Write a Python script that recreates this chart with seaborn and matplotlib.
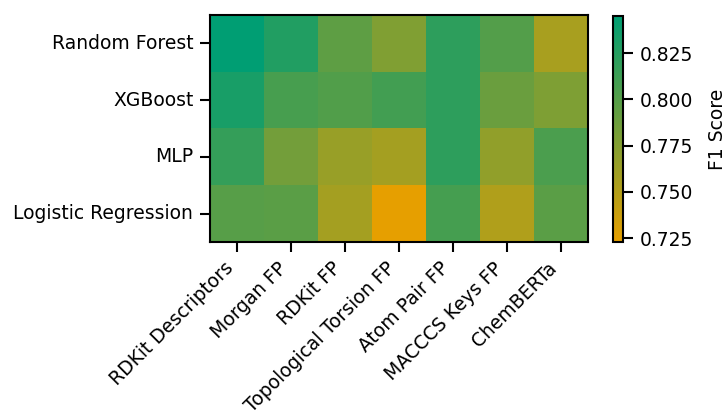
import numpy as np
import pandas as pd
import matplotlib
matplotlib.use("Agg")
import matplotlib.pyplot as plt
from matplotlib.colors import LinearSegmentedColormap
import seaborn as sns

# models and feature sets
models = ["Random Forest", "XGBoost", "MLP", "Logistic Regression"]
features = ["RDKit Descriptors", "Morgan FP", "RDKit FP", "Topological Torsion FP",
            "Atom Pair FP", "MACCCS Keys FP", "ChemBERTa"]

# F1 scores (rows = models)
rf_f1 = [0.845, 0.827, 0.795, 0.777, 0.821, 0.801, 0.756]
xgb_f1 = [0.832, 0.807, 0.802, 0.810, 0.821, 0.789, 0.778]
mlp_f1 = [0.817, 0.784, 0.764, 0.758, 0.821, 0.768, 0.805]
lr_f1 = [0.799, 0.797, 0.758, 0.723, 0.808, 0.752, 0.797]

df = pd.DataFrame([rf_f1, xgb_f1, mlp_f1, lr_f1], index=models, columns=features)

sns.set_style("ticks")
plt.rcParams['font.family'] = ['DejaVu Sans']
plt.rcParams.update({"text.color": "black", "axes.labelcolor": "black",
                     "xtick.color": "black", "ytick.color": "black"})

cmap = LinearSegmentedColormap.from_list("okabe", ["#E69F00", "#009E73"])

fig = plt.figure(figsize=(7.28, 4.11), dpi=100)
ax = fig.add_axes([210 / 728, 1 - 242 / 411, 378 / 728, 227 / 411])
cax = fig.add_axes([613 / 728, 1 - 242 / 411, 10 / 728, 226 / 411])

sns.heatmap(df, cmap=cmap, ax=ax, cbar_ax=cax, cbar_kws={"label": "F1 Score"})

for spine in ax.spines.values():
    spine.set_visible(True)
    spine.set_linewidth(1.5)
    spine.set_color("black")
cb = ax.collections[0].colorbar
cb.outline.set_linewidth(1.5)
cb.outline.set_edgecolor("black")
cb.set_ticks([0.725, 0.75, 0.775, 0.8, 0.825])
cb.ax.tick_params(labelsize=13.5, width=1.5, length=7, pad=5, colors="black")
cb.set_label("F1 Score", fontsize=13.5, labelpad=10.5)

ax.tick_params(axis="both", labelsize=13.5, width=1.5, length=7, pad=5, colors="black")
ax.set_xticklabels(features, rotation=45, ha="right")
ax.set_yticklabels(models, rotation=0)
ax.set_xlabel("")
ax.set_ylabel("")

fig.savefig("out.png", dpi=100)
